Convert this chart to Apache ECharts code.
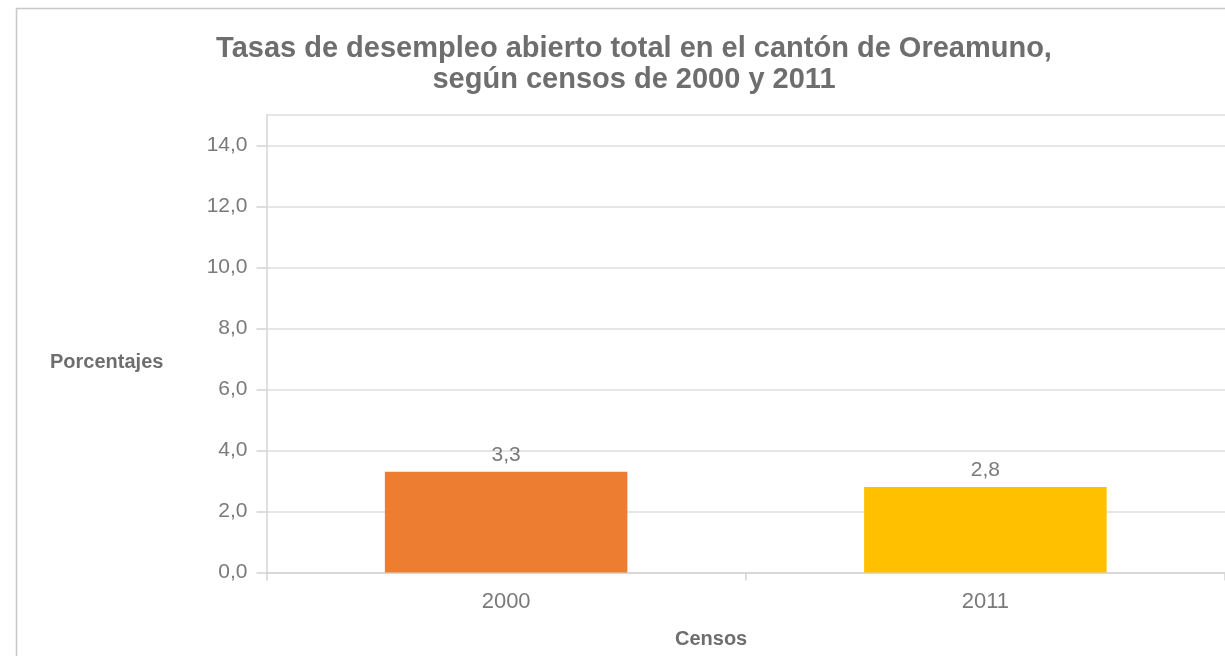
<!DOCTYPE html>
<html>
<head>
<meta charset="utf-8">
<script src="https://cdn.jsdelivr.net/npm/echarts@6/dist/echarts.min.js"></script>
<style>
  html, body { margin: 0; padding: 0; background: #fff; }
  #chart { width: 1225px; height: 656px; }
</style>
</head>
<body>
<div id="chart"></div>
<script>
var censos = ['2000', '2011'];
var tasas = [3.3, 2.8];
var colores = ['#ED7D31', '#FFC000'];

var chart = echarts.init(document.getElementById('chart'));

function coma(v) {
    return v.toFixed(1).replace('.', ',');
}

var option = {
    animation: false,
    backgroundColor: '#fff',
    title: {
        text: 'Tasas de desempleo abierto total en el cantón de Oreamuno,\nsegún censos de 2000 y 2011',
        left: 629,
        top: 28,
        textAlign: 'center',
        textStyle: {
            fontFamily: 'Liberation Sans',
            fontWeight: 'bold',
            fontSize: 29,
            lineHeight: 31,
            color: '#6e6e6e'
        }
    },
    grid: {
        left: 266.5,
        right: -1.5,
        top: 115,
        bottom: 83.5
    },
    xAxis: {
        type: 'category',
        data: censos,
        axisLine: { lineStyle: { color: '#d4d4d4', width: 1.5 } },
        axisTick: { show: true, length: 8, lineStyle: { color: '#d4d4d4', width: 1.5 } },
        axisLabel: {
            margin: 18,
            fontFamily: 'Liberation Sans',
            fontSize: 22,
            color: '#7a7a7a'
        }
    },
    yAxis: {
        type: 'value',
        min: 0,
        max: 15,
        interval: 2,
        axisLine: { show: true, lineStyle: { color: '#d4d4d4', width: 1.5 } },
        axisTick: { show: true, length: 10, lineStyle: { color: '#d4d4d4', width: 1.5 } },
        splitLine: { lineStyle: { color: '#dedede', width: 1.5 } },
        axisLabel: {
            showMaxLabel: false,
            margin: 19,
            fontFamily: 'Liberation Sans',
            fontSize: 21,
            color: '#7a7a7a',
            formatter: function (v) { return coma(v); }
        }
    },
    graphic: [
        {
            type: 'rect',
            left: 14,
            top: 6,
            shape: { width: 1300, height: 700 },
            style: { fill: 'none', stroke: '#c8c8c8', lineWidth: 1.5 }
        },
        {
            type: 'text',
            left: 50,
            top: 352,
            style: {
                text: 'Porcentajes',
                fontFamily: 'Liberation Sans',
                fontWeight: 'bold',
                fontSize: 20,
                fill: '#6e6e6e'
            }
        },
        {
            type: 'text',
            left: 675,
            top: 629,
            style: {
                text: 'Censos',
                fontFamily: 'Liberation Sans',
                fontWeight: 'bold',
                fontSize: 20,
                fill: '#6e6e6e'
            }
        }
    ],
    series: [
        {
            name: 'Tasa',
            type: 'bar',
            barWidth: '50.6%',
            data: tasas.map(function (v, i) {
                return { value: v, itemStyle: { color: colores[i] } };
            }),
            label: {
                show: true,
                position: 'top',
                distance: 6,
                fontFamily: 'Liberation Sans',
                fontSize: 21,
                color: '#7a7a7a',
                formatter: function (p) { return coma(p.value); }
            }
        }
    ]
};

chart.setOption(option);
</script>
</body>
</html>
